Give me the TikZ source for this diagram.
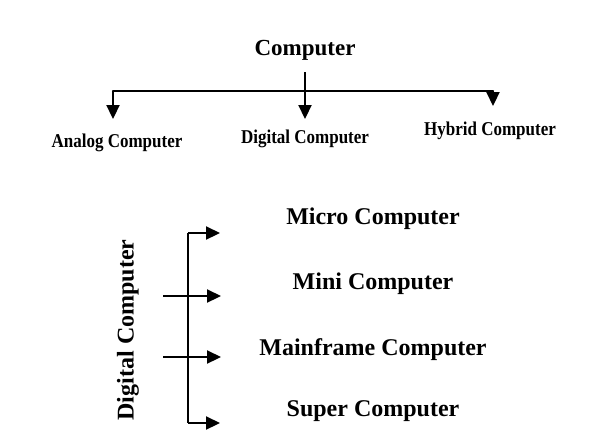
\documentclass[tikz,border=0pt]{standalone}
\usepackage{fontspec}
\setmainfont{Liberation Serif}
\usetikzlibrary{arrows.meta}
\begin{document}
\begin{tikzpicture}[x=1pt,y=-1pt,
  conn/.style={line width=2.2pt,-{Triangle[width=13pt,length=14pt]}},
  bar/.style={line width=2.2pt},
  toplbl/.style={font=\fontsize{17}{20}\selectfont\bfseries,inner sep=1pt,yscale=1.15},
  biglbl/.style={font=\fontsize{24}{28}\selectfont\bfseries,inner sep=1pt}]
\useasboundingbox (0,0) rectangle (604,429);
\node[font=\fontsize{23}{27}\selectfont\bfseries,inner sep=1pt] (comp) at (305,50) {Computer};
\node[toplbl] (ana) at (117,143) {Analog Computer};
\node[toplbl] (dig) at (305,139) {Digital Computer};
\node[toplbl] (hyb) at (490,131) {Hybrid Computer};
\coordinate (top) at (305,72);
\coordinate (jn) at (305,91);
\coordinate (bl) at (113,91);
\coordinate (br) at (493,91);
\draw[bar,line cap=round] (bl) -- (br);
\draw[conn] (top) -- (305,119);
\draw[conn] (bl) -- (113,119);
\draw[conn] (br) -- (493,106);
% bottom
\node[biglbl,rotate=90] (dc) at (128,330) {Digital Computer};
\node[biglbl] (micro) at (373,219) {Micro Computer};
\node[biglbl] (mini) at (373,284) {Mini Computer};
\node[biglbl] (main) at (373,350) {Mainframe Computer};
\node[biglbl] (super) at (373,411) {Super Computer};
\coordinate (vt) at (188,233);
\coordinate (vb) at (188,423);
\draw[bar] (vt) -- (vb);
\draw[conn] (vt) -- (220,233);
\draw[conn] (vb) -- (220,423);
\draw[conn] (163,296) -- (221,296);
\draw[conn] (163,357) -- (221,357);
\end{tikzpicture}
\end{document}
